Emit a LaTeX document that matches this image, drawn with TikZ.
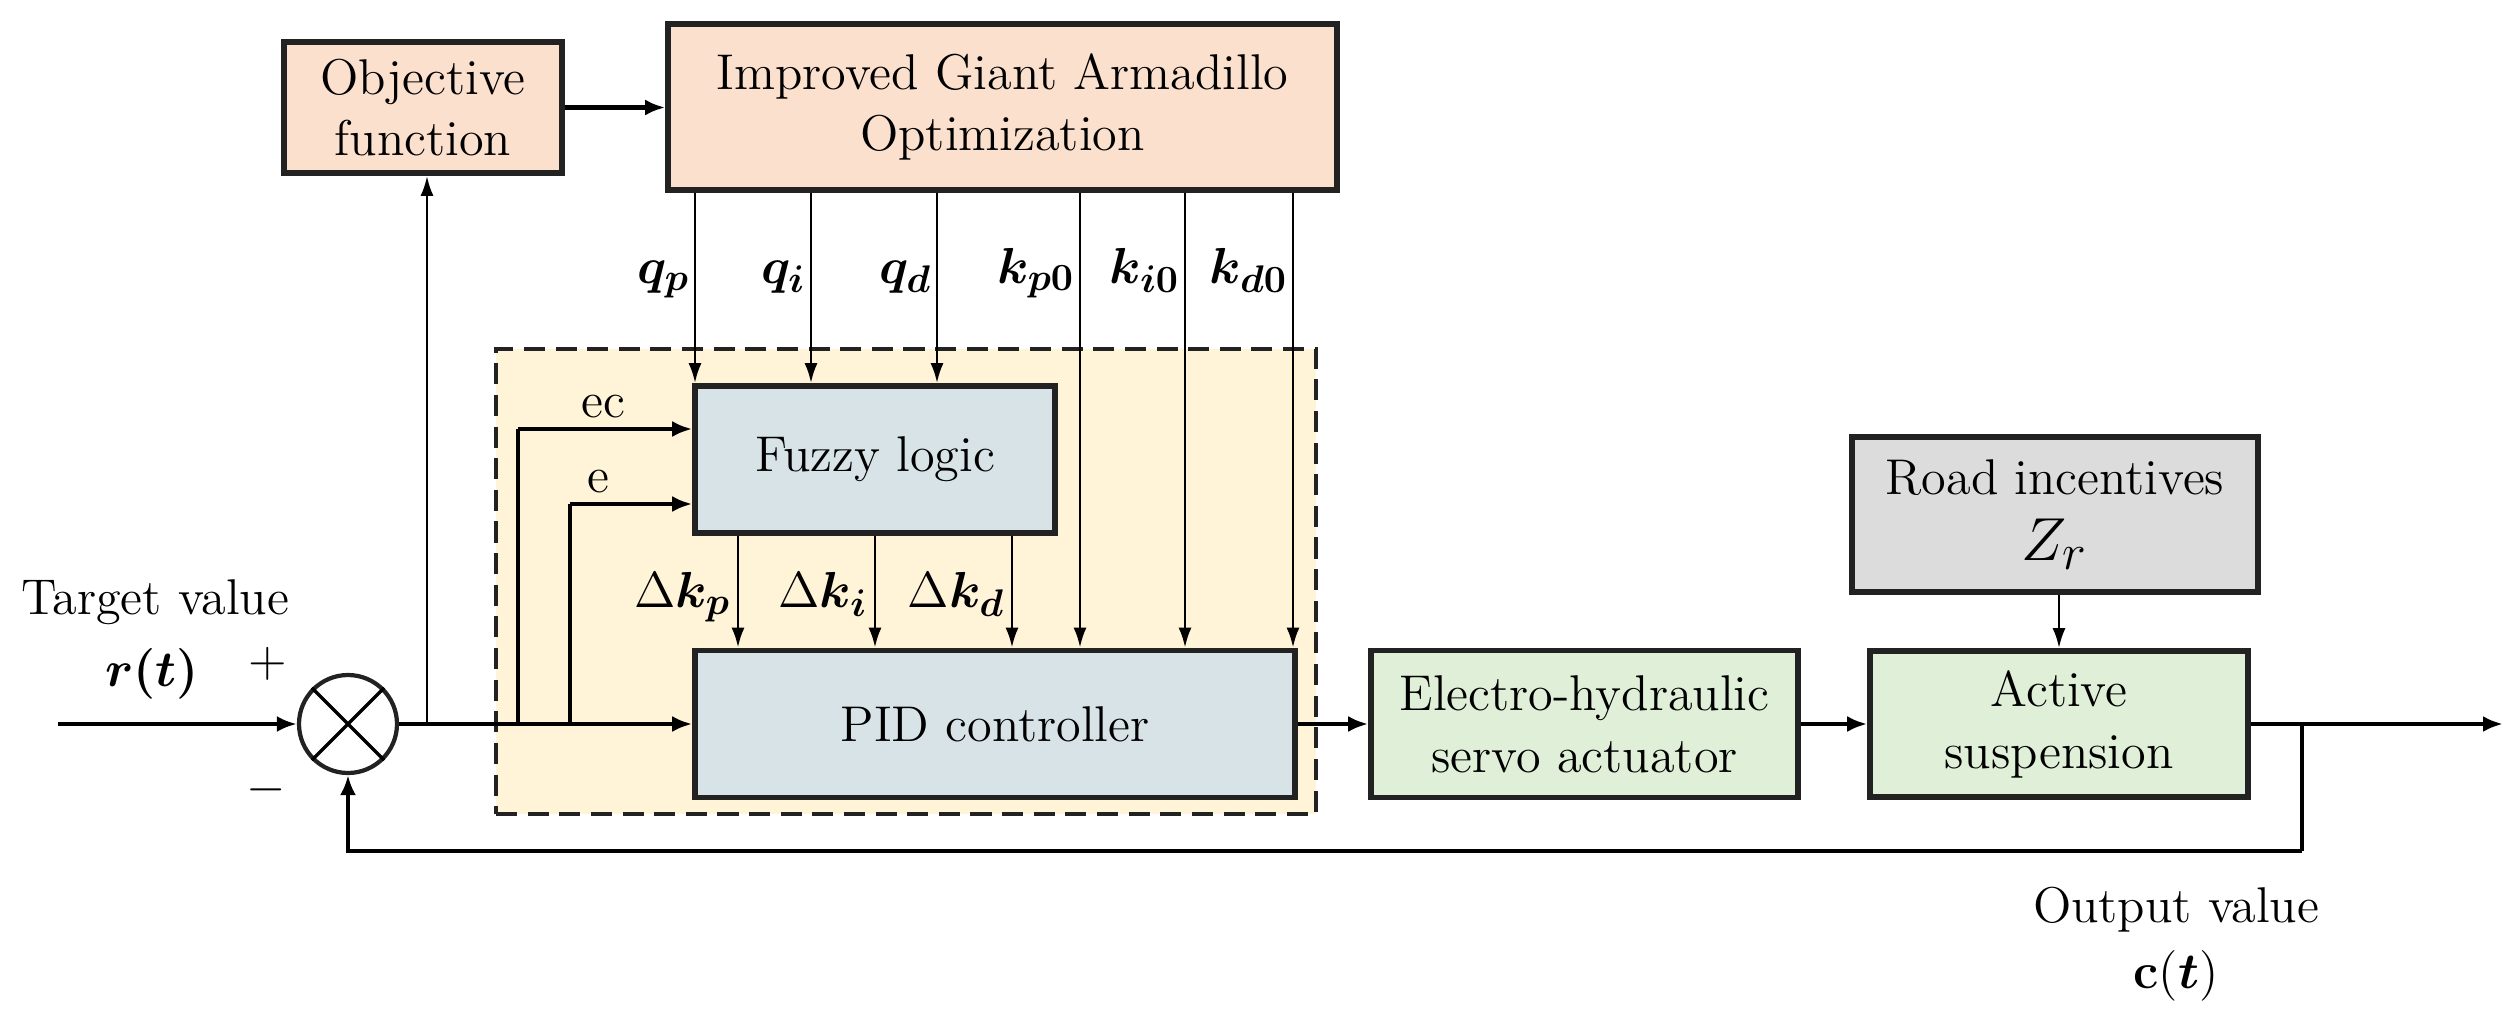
\documentclass[tikz,border=0pt]{standalone}
\usepackage{amsmath,bm}
\usetikzlibrary{arrows.meta,calc}

\definecolor{peach}{HTML}{FBE0CE}
\definecolor{cream}{HTML}{FFF3D8}
\definecolor{bluegray}{HTML}{D7E3E6}
\definecolor{lgreen}{HTML}{E0EFD7}
\definecolor{lgray}{HTML}{DCDCDC}
\definecolor{bordercol}{HTML}{222222}

\begin{document}
\begin{tikzpicture}[x=1cm,y=1cm,
  font=\fontsize{14.3}{17.6}\selectfont,
  blk/.style={draw=bordercol, line width=1.6pt, align=center, inner sep=0pt},
  thick arrow/.style={line width=1.4pt, -{Latex[length=0.2cm,width=0.16cm]}},
  thin arrow/.style={line width=0.8pt, -{Latex[length=0.2cm,width=0.13cm]}},
  thick line/.style={line width=1.4pt},
  mlab/.style={font=\fontsize{15.5}{18}\selectfont, inner sep=1pt},
]
\useasboundingbox (0,0) rectangle (25.14,-10.25);

% dashed controller region
\node[draw=bordercol, fill=cream, dash pattern=on 6pt off 3pt, line width=1.2pt,
      minimum width=8.2cm, minimum height=4.65cm, inner sep=0pt] (region) at (9.06,-5.815) {};

% blocks
\node[blk, fill=peach, minimum width=2.78cm, minimum height=1.31cm] (obj) at (4.23,-1.075) {Objective\\function};
\node[blk, fill=peach, minimum width=6.69cm, minimum height=1.66cm] (iga) at (10.025,-1.07) {Improved Giant Armadillo\\Optimization};
\node[blk, fill=bluegray, minimum width=3.6cm, minimum height=1.47cm] (fz) at (8.75,-4.595) {Fuzzy logic};
\node[blk, fill=bluegray, minimum width=6.0cm, minimum height=1.47cm] (pid) at (9.95,-7.24) {PID controller};
\node[blk, fill=lgreen, minimum width=4.27cm, minimum height=1.47cm] (ehs) at (15.845,-7.24) {Electro-hydraulic\\servo actuator};
\node[blk, fill=lgreen, minimum width=3.78cm, minimum height=1.46cm] (act) at (20.59,-7.24) {Active\\suspension};
\node[blk, fill=lgray, minimum width=4.06cm, minimum height=1.55cm] (road) at (20.55,-5.145) {Road incentives\\[1pt]{\fontsize{19}{21}\selectfont$Z_r$}};

% summing junction
\node[circle, draw=bordercol, line width=1.2pt, minimum size=0.98cm, inner sep=0pt] (sum) at (3.48,-7.24) {};
\draw[line width=1.0pt] (sum.north west) -- (sum.south east) (sum.north east) -- (sum.south west);

% coordinates
\coordinate (in) at (0.58,-7.24);
\coordinate (bobj) at (4.27,-7.24);
\coordinate (bec) at (5.18,-7.24);
\coordinate (be) at (5.70,-7.24);
\coordinate (ecy) at (5.18,-4.29);
\coordinate (ey) at (5.70,-5.04);
\coordinate (out) at (25.03,-7.24);
\coordinate (bfb) at (23.02,-7.24);
\coordinate (fbr) at (23.02,-8.51);

% main signal path
\draw[thick arrow] (in) -- (sum.west);
\draw[thick arrow] (sum.east) -- (pid.west);
\draw[thin arrow] (bobj) -- (bobj |- obj.south);
\draw[thick arrow] (obj.east) -- (obj.east -| iga.west);
\draw[thick line] (bec) -- (ecy);
\draw[thick arrow] (ecy) -- (ecy -| fz.west);
\draw[thick line] (be) -- (ey);
\draw[thick arrow] (ey) -- (ey -| fz.west);
\draw[thick arrow] (pid.east) -- (ehs.west);
\draw[thick arrow] (ehs.east) -- (act.west);
\draw[thick arrow] (act.east) -- (out);
\draw[thin arrow] (road.south -| act.north) -- (act.north);
\draw[thick line] (bfb) -- (fbr);
\draw[thick arrow] (fbr) -| (sum.south);

% optimizer outputs
\foreach \x/\lab in {6.95/q_p, 8.11/q_i, 9.37/q_d} {
  \draw[thin arrow] (iga.south -| \x,0) -- (fz.north -| \x,0);
  \node[mlab, anchor=base east] at (\x-0.01,-2.83) {$\bm{\lab}$};
}
\foreach \x/\lab in {10.80/k_{p0}, 11.85/k_{i0}, 12.93/k_{d0}} {
  \draw[thin arrow] (iga.south -| \x,0) -- (pid.north -| \x,0);
  \node[mlab, anchor=base east] at (\x-0.01,-2.83) {$\bm{\lab}$};
}
% fuzzy outputs
\foreach \x/\lab in {7.38/k_p, 8.75/k_i, 10.12/k_d} {
  \draw[thin arrow] (fz.south -| \x,0) -- (pid.north -| \x,0);
  \node[mlab, anchor=base east] at (\x-0.03,-6.07) {$\Delta\bm{\lab}$};
}

% labels
\node[anchor=base] at (6.03,-4.17) {ec};
\node[anchor=base] at (5.98,-4.92) {e};
\node (tv) at (1.55,-6.02) {Target value};
\node[mlab] (rt) at (1.52,-6.74) {$\bm{r(t)}$};
\node (plus) at (2.68,-6.64) {$+$};
\node (minus) at (2.66,-7.9) {$-$};
\node (ov) at (21.76,-9.1) {Output value};
\node[mlab] (ct) at (21.76,-9.76) {$\mathbf{c}(\bm{t})$};
\end{tikzpicture}
\end{document}
